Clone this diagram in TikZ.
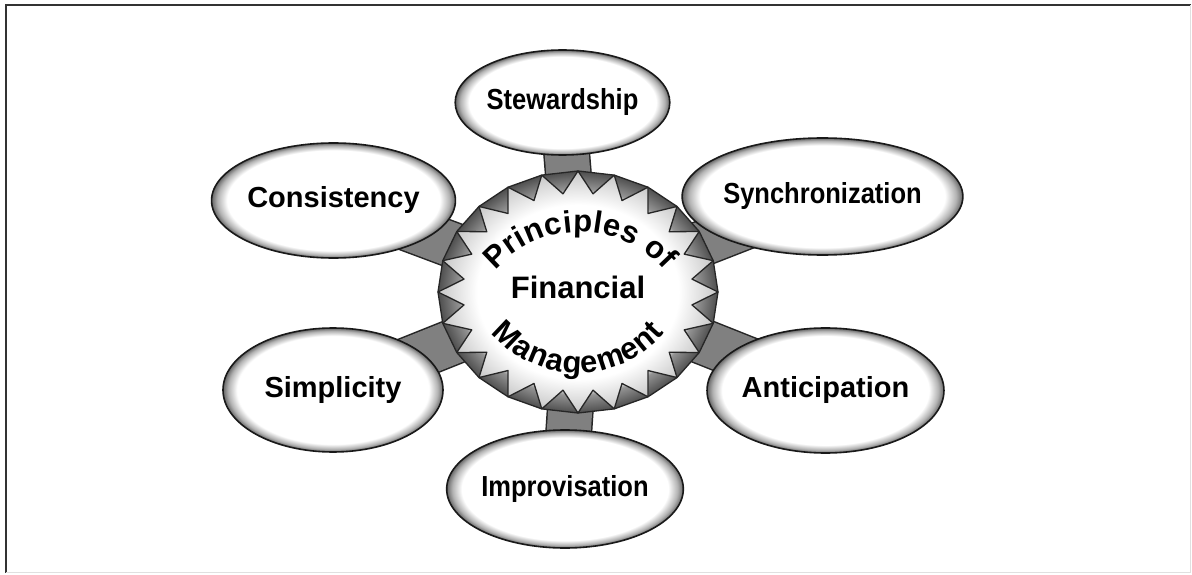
\documentclass[tikz,border=0pt]{standalone}
\usepackage{fontspec}
\setmainfont{Liberation Sans}
\usepackage{graphicx}
\usetikzlibrary{shapes.geometric,decorations.text,backgrounds,positioning}

\pgfdeclareradialshading{rimshade}{\pgfpointorigin}{color(0bp)=(white); color(21.8bp)=(white); color(23.8bp)=(black!30); color(25bp)=(black!60); color(50bp)=(black!60)}
\pgfdeclareradialshading{cogshade}{\pgfpointorigin}{color(0bp)=(white); color(20bp)=(white); color(21.3bp)=(black!42); color(25bp)=(black!70); color(50bp)=(black!70)}
\pgfdeclareradialshading{spikeshade}{\pgfpointorigin}{color(0bp)=(white); color(18bp)=(white); color(25bp)=(black!22); color(50bp)=(black!22)}

\newcommand{\narrowlabel}[1]{\scalebox{0.88}[1]{#1}}

\tikzset{
  principle/.style = {shape = ellipse, draw = black!90, line width = 1.6pt, shade, shading = rimshade, inner sep = 0pt, font = \bfseries\fontsize{29}{32}\selectfont},
  armedge/.style = {line width = 47pt, black!85},
  armfill/.style = {line width = 44pt, black!50},
  cogline/.style = {draw = black!85, line width = 1.3pt, line join = round},
  arctext/.style = {decorate, decoration = {text along path, text align = {fit to path}, text = {#1}}}
}

\begin{document}
\begin{tikzpicture}[x = 1pt, y = 1pt]
\useasboundingbox (0,0) rectangle (1192,574);
\draw[black!80, line width = 2.4pt] (6,1.5) -- (6,569) -- (1190.5,569);
\draw[black!12, line width = 1pt] (6,1.5) -- (1190.5,1.5) -- (1190.5,569);

\coordinate (hub) at (578,282);
\node[font = \bfseries\fontsize{31}{34}\selectfont] (pfm) at (578,287) {Financial};
\node[principle, minimum width = 189pt, minimum height = 105pt] (stew) at (562.5,471.5) {\narrowlabel{Stewardship}};
\node[principle, minimum width = 223pt, minimum height = 115pt] (cons) at (333.5,373.5) {Consistency};
\node[principle, minimum width = 225pt, minimum height = 117pt] (sync) at (822.5,377.5) {\narrowlabel{Synchronization}};
\node[principle, minimum width = 220pt, minimum height = 124pt] (simp) at (333,184) {Simplicity};
\node[principle, minimum width = 225pt, minimum height = 125pt] (anti) at (825.5,183.5) {Anticipation};
\node[principle, minimum width = 194pt, minimum height = 118pt] (impr) at (565,85) {\narrowlabel{Improvisation}};

\begin{scope}[on background layer]
\foreach \p in {stew,cons,sync,simp,anti,impr}
  \draw[armedge] (hub) -- (\p.center);
\foreach \p in {stew,cons,sync,simp,anti,impr}
  \draw[armfill] (hub) -- (\p.center);
\begin{scope}[shift = {(hub)}]
\shade[shading = cogshade, cogline] (0:140 and 121) \foreach \a in {15,30,...,345} {-- (\a:140 and 121)} -- cycle;
\shade[shading = spikeshade, cogline] (0:140 and 121) \foreach \a [evaluate = \a as \b using \a-7.5] in {15,30,...,360} {-- (\b:115 and 99) -- (\a:140 and 121)} -- cycle;
\end{scope}
\end{scope}

\path[arctext = {|\bfseries\fontsize{31}{34}\selectfont|Principles of}] (hub) ++(2,-52) ++(139:112) arc[start angle = 139, end angle = 41, radius = 112];
\path[arctext = {|\bfseries\fontsize{31}{34}\selectfont|Management}] (hub) ++(0,32) ++(220:113) arc[start angle = 220, end angle = 320, radius = 113];
\end{tikzpicture}
\end{document}
